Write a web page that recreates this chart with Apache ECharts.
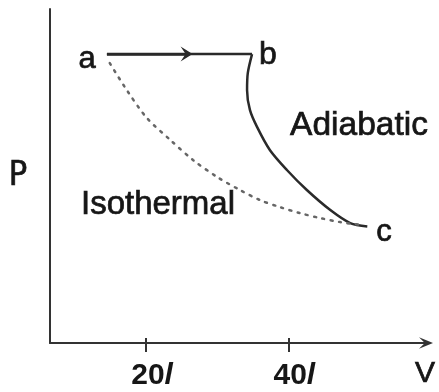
<!DOCTYPE html>
<html>
<head>
<meta charset="utf-8">
<script src="https://cdn.jsdelivr.net/npm/echarts@6/dist/echarts.min.js"></script>
<style>
html, body { margin: 0; padding: 0; background: #fff; }
#chart { width: 439px; height: 392px; }
</style>
</head>
<body>
<div id="chart"></div>
<script>
// a -> b at constant pressure
const abLine = [[14.5, 86.5], [34.9, 86.5]]
const arrowTip = [25.7, 86.5]
// b -> c adiabatic
const adiabatic = [
    [34.9, 86.5], [34.3, 80.8], [34.2, 75.7], [34.6, 69.8], [35.6, 64.7],
    [37.4, 57.8], [39.8, 51.8], [42.6, 45.8], [45.9, 39.8], [48.7, 35.9], [51.1, 34.9]
]
// a -> c isothermal
const isothermal = [
    [14.9, 83.8], [17.3, 75.7], [20.1, 67.4], [23.4, 60.8], [26.6, 54.8],
    [30.0, 49.7], [33.2, 45.8], [36.0, 42.8], [38.8, 40.7], [41.6, 38.9],
    [44.5, 37.4], [47.3, 36.2], [50.4, 35.3]
]
const vTicks = [20, 40]

const textColor = '#161616'
const lineColor = '#2a2a2a'
const font = "'Liberation Sans', Arial, sans-serif"
const arrowPath = 'path://M0,12L5,0L10,12L5,7Z'

let chartInstance = echarts.init(document.getElementById('chart'), null, { renderer: 'canvas' })

// y is the vertical middle of the text
const txt = (text, x, y, size, family) => ({
    type: 'text',
    style: {
        text: text, x: x, y: y,
        fill: textColor,
        stroke: textColor,
        lineWidth: 0.7,
        font: size + 'px ' + (family || font),
        align: 'center',
        verticalAlign: 'middle'
    }
})

const option = {
    animation: false,
    grid: { left: 50, right: 13, top: 9, bottom: 49 },
    xAxis: [
        {
            type: 'value',
            position: 'bottom',
            min: 6.5,
            max: 59.35,
            splitLine: { show: false },
            axisLine: {
                show: true,
                symbol: ['none', arrowPath],
                symbolSize: [12, 14],
                lineStyle: { color: '#333', width: 2 }
            },
            axisTick: {
                show: true, length: 9, customValues: vTicks,
                lineStyle: { color: '#333', width: 2 }
            },
            axisLabel: {
                show: true,
                customValues: vTicks,
                margin: 18,
                formatter: v => '{n|' + v + '}{l|l}',
                rich: {
                    n: { fontSize: 30, fontWeight: 'bold', fontFamily: font, color: textColor, padding: [0, 0, 0, 12] },
                    l: { fontSize: 30, fontWeight: 'bold', fontFamily: font, color: textColor, fontStyle: 'italic' }
                }
            }
        },
        {
            type: 'value',
            position: 'bottom',
            min: 6.5,
            max: 59.35,
            splitLine: { show: false },
            axisLine: { show: false },
            axisTick: {
                show: true, inside: true, length: 5, customValues: vTicks,
                lineStyle: { color: '#333', width: 2 }
            },
            axisLabel: { show: false }
        }
    ],
    yAxis: {
        type: 'value',
        min: 0,
        max: 100,
        splitLine: { show: false },
        axisLine: { show: true, lineStyle: { color: '#333', width: 2 } },
        axisTick: { show: false },
        axisLabel: { show: false }
    },
    series: [
        {
            name: 'ab',
            type: 'line',
            data: abLine,
            symbol: 'none',
            lineStyle: { color: lineColor, width: 2.5 },
            markLine: {
                silent: true,
                animation: false,
                symbol: ['none', arrowPath],
                symbolSize: [15, 12],
                label: { show: false },
                lineStyle: { color: lineColor, width: 2.5, type: 'solid' },
                emphasis: { disabled: true },
                data: [[{ coord: abLine[0] }, { coord: arrowTip }]]
            }
        },
        {
            name: 'Adiabatic',
            type: 'line',
            data: adiabatic,
            symbol: 'none',
            smooth: 0.3,
            lineStyle: { color: lineColor, width: 2.5 }
        },
        {
            name: 'Isothermal',
            type: 'line',
            data: isothermal,
            symbol: 'none',
            smooth: 0.3,
            lineStyle: { color: '#666', width: 2.5, type: [2, 6.5], cap: 'round' }
        }
    ],
    graphic: [
        txt('a', 87, 59, 31),
        txt('b', 268, 55, 32),
        txt('c', 384, 232, 31),
        txt('Adiabatic', 359, 126, 33.5),
        txt('Isothermal', 158, 205, 33),
        txt('P', 18, 176, 34, "'DejaVu Sans Condensed', 'Liberation Sans Narrow', sans-serif"),
        txt('V', 425, 374, 30)
    ]
}

chartInstance.setOption(option)
</script>
</body>
</html>
